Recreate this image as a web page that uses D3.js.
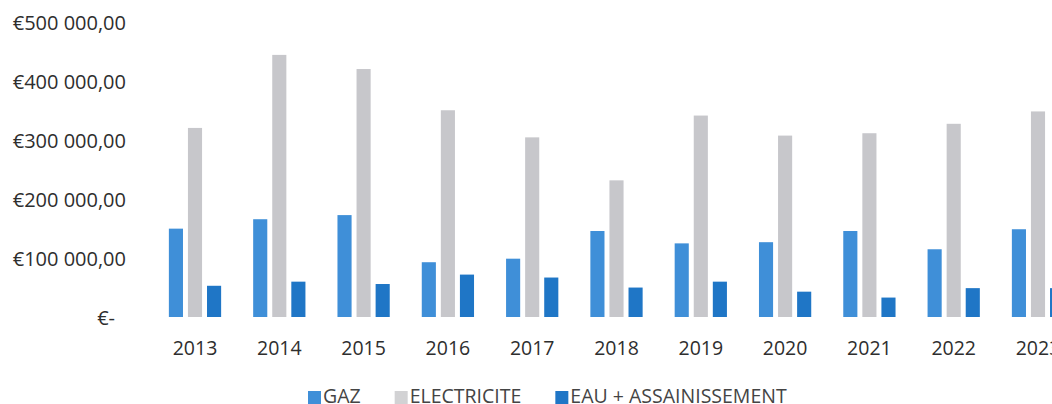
<!DOCTYPE html>
<html>
<head>
<meta charset="utf-8">
<script src="https://cdn.jsdelivr.net/npm/d3@7"></script>
<style>
  body { margin: 0; background: #fff; }
  svg { display: block; }
  text { font-family: "Open Sans", sans-serif; }
</style>
</head>
<body>
<div id="chart"></div>
<script>
const years = ["2013", "2014", "2015", "2016", "2017", "2018", "2019", "2020", "2021", "2022", "2023"];
const seriesNames = ["GAZ", "ELECTRICITE", "EAU + ASSAINISSEMENT"];
const gaz = [150000, 166000, 173000, 93000, 99000, 146000, 125000, 127000, 146000, 115000, 149000];
const electricite = [321000, 445000, 421000, 351000, 305000, 232000, 342000, 308000, 312000, 328000, 349000];
const eau = [53000, 60000, 56000, 72000, 67000, 50000, 60000, 43000, 33000, 49000, 49000];
const yTicks = [0, 100000, 200000, 300000, 400000, 500000];

const width = 1052, height = 404;
const colors = ["#3f8fd8", "#c7c7cb", "#1f76c6"];
const legendColors = ["#3f8fd8", "#d2d2d4", "#1f76c6"];

const svg = d3.select("#chart").append("svg")
  .attr("width", width)
  .attr("height", height);

// the plot runs past the right edge of the picture (2023 is cut off)
const step = 84.3;
const x0 = d3.scaleBand()
  .domain(years)
  .range([195 - step / 2, 195 - step / 2 + step * years.length])
  .paddingInner(0.38)
  .paddingOuter(0.19);

const x1 = d3.scaleBand()
  .domain(seriesNames)
  .range([0, x0.bandwidth()])
  .paddingInner(0.26);

const y = d3.scaleLinear()
  .domain([0, 500000])
  .range([317, 22.5]);

const values = [gaz, electricite, eau];

// y labels, Excel accounting style
const fmt = v => {
  if (v === 0) return "€-";
  const s = d3.format(",.2f")(v).replace(/,/g, " ").replace(".", ",");
  return "€" + s;
};

svg.append("g")
  .selectAll("text")
  .data(yTicks)
  .join("text")
  .attr("x", d => d === 0 ? 115 : 126)
  .attr("y", d => y(d) + 7.5)
  .attr("text-anchor", "end")
  .attr("fill", "#2e2e2e")
  .style("font-size", "20px")
  .text(fmt);

// bars
const groups = svg.append("g")
  .selectAll("g")
  .data(years)
  .join("g")
  .attr("transform", d => "translate(" + x0(d) + ",0)");

groups.selectAll("rect")
  .data((d, i) => seriesNames.map((name, k) => ({ name: name, k: k, value: values[k][i] })))
  .join("rect")
  .attr("x", d => x1(d.name))
  .attr("width", x1.bandwidth())
  .attr("y", d => y(d.value))
  .attr("height", d => y(0) - y(d.value))
  .attr("fill", d => colors[d.k]);

// x labels
svg.append("g")
  .selectAll("text")
  .data(years)
  .join("text")
  .attr("x", d => x0(d) + x0.bandwidth() / 2)
  .attr("y", 355)
  .attr("text-anchor", "middle")
  .attr("fill", "#2e2e2e")
  .style("font-size", "19.5px")
  .text(d => d);

// legend
const legend = svg.append("g").attr("transform", "translate(308,0)");
let lx = 0;
seriesNames.forEach((name, k) => {
  legend.append("rect")
    .attr("x", lx)
    .attr("y", 391)
    .attr("width", 13)
    .attr("height", 13)
    .attr("fill", legendColors[k]);
  const t = legend.append("text")
    .attr("x", lx + 15)
    .attr("y", 403)
    .attr("fill", "#444")
    .style("font-size", "19.5px")
    .text(name);
  lx += 15 + t.node().getComputedTextLength() + 34;
});
</script>
</body>
</html>
